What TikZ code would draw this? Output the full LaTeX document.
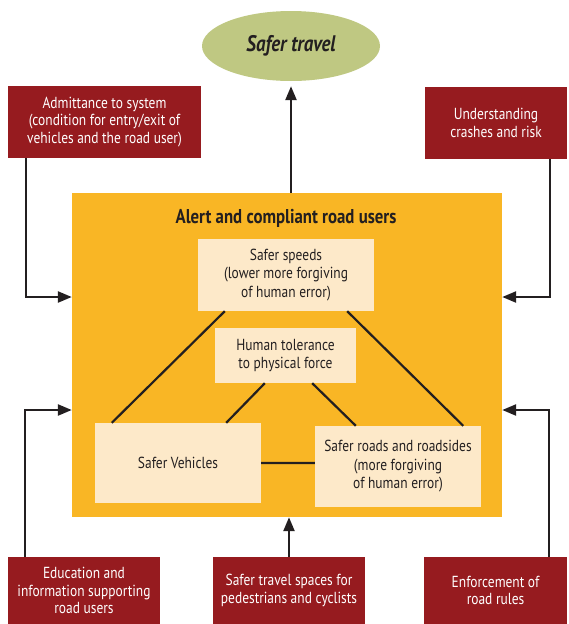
\documentclass[tikz,border=0pt]{standalone}
\usepackage{fontspec}
\setmainfont[FakeStretch=0.84]{PT Sans}
\usetikzlibrary{arrows.meta,shapes.geometric}

\definecolor{boxred}{HTML}{961B1F}
\definecolor{coreyellow}{HTML}{F9B625}
\definecolor{paleinner}{HTML}{FDE9C9}
\definecolor{goalgreen}{HTML}{BFC882}
\definecolor{inkdark}{HTML}{231F20}

\begin{document}
\begin{tikzpicture}[x=1pt, y=-1pt,
    redbox/.style={shape=rectangle, fill=boxred, text=white, inner sep=0pt,
      align=center, font=\fontsize{16}{17.5}\selectfont},
    palebox/.style={shape=rectangle, fill=paleinner, text=inkdark, inner sep=0pt,
      align=center, font=\fontsize{16}{18.5}\selectfont},
    link/.style={draw=inkdark, line width=2.2pt},
    feed/.style={draw=inkdark, line width=2.4pt, -{Triangle[length=14pt,width=11pt]}}
  ]
\useasboundingbox (0,0) rectangle (569,624);

              % goal
\node[shape=ellipse, fill=goalgreen, minimum width=178pt, minimum height=70pt,
  inner sep=0pt, text=inkdark, font=\fontsize{22.5}{24}\selectfont\bfseries\itshape] at (291, 46)
(goal) {Safer travel};

              % core of the system
\node[shape=rectangle, fill=coreyellow, minimum width=430pt, minimum height=324pt] at (287, 355)
(safe) {};
\node[text=inkdark, font=\fontsize{20}{22}\selectfont\bfseries] at (286, 218)
(users) {Alert and compliant road users};

\node[palebox, minimum width=176pt, minimum height=72pt] at (286, 275)
(speeds) {Safer speeds\\(lower more forgiving\\of human error)};

\node[palebox, minimum width=141pt, minimum height=55pt] at (285.5, 355.5)
(tol) {Human tolerance\\to physical force};

\node[palebox, minimum width=166pt, minimum height=80pt] at (178, 463)
(veh) {Safer Vehicles};

\node[palebox, minimum width=166pt, minimum height=81pt] at (398, 466.5)
(roads) {Safer roads and roadsides\\(more forgiving\\of human error)};

\draw[link]
  ([xshift=27pt]speeds.south west)  -- ([xshift=17pt]veh.north west)
  ([xshift=-27pt]speeds.south east) -- ([xshift=-18pt]roads.north east)
  ([xshift=50pt]tol.south west)     -- ([xshift=-35pt]veh.north east)
  ([xshift=-44pt]tol.south east)    -- ([xshift=41pt]roads.north west)
  (veh.east) -- (veh.east -| roads.west)
;

              % inputs
\node[redbox, minimum width=193pt, minimum height=72pt] at (104.5, 122)
(adm) {Admittance to system\\(condition for entry/exit of\\vehicles and the road user)};

\node[redbox, minimum width=142pt, minimum height=72pt] at (496, 123)
(und) {Understanding\\crashes and risk};

\node[redbox, minimum width=152pt, minimum height=67pt] at (84, 590.5)
(edu) {Education and\\information supporting\\road users};

\node[redbox, minimum width=152pt, minimum height=67pt] at (289, 590.5)
(spaces) {Safer travel spaces for\\pedestrians and cyclists};

\node[redbox, minimum width=143pt, minimum height=67pt] at (495.5, 590.5)
(enf) {Enforcement of\\road rules};

\draw[feed] ([xshift=18pt]adm.south west)  |- ([yshift=58pt]safe.west);
\draw[feed] ([xshift=-17pt]und.south east) |- ([yshift=58pt]safe.east);
\draw[feed] ([xshift=17pt]edu.north west)  |- ([yshift=-55pt]safe.west);
\draw[feed] ([xshift=-18pt]enf.north east) |- ([yshift=-55pt]safe.east);
\draw[feed] (spaces.north) -- (spaces.north |- safe.south);
\draw[feed, shorten >=5pt] (goal.south |- safe.north) -- (goal.south);
\end{tikzpicture}
\end{document}
